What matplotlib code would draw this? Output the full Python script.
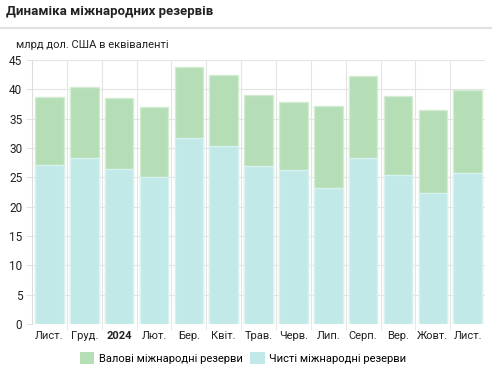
import matplotlib.pyplot as plt
from matplotlib.patches import Patch

plt.rcParams['font.family'] = ['Roboto', 'DejaVu Sans']

# Дані
months = ['Лист.', 'Груд.', '2024', 'Лют.', 'Бер.', 'Квіт.', 'Трав.',
          'Черв.', 'Лип.', 'Серп.', 'Вер.', 'Жовт.', 'Лист.']
gross = [38.7, 40.45, 38.5, 37.0, 43.75, 42.4, 39.0, 37.85, 37.15, 42.3, 38.8, 36.5, 39.9]
net = [27.05, 28.35, 26.4, 25.1, 31.7, 30.4, 27.0, 26.2, 23.25, 28.3, 25.4, 22.3, 25.8]

green = '#b5deb6'
cyan = '#c1e9e8'
grid_c = '#e4e4e4'

fig = plt.figure(figsize=(4.92, 3.69), dpi=100)
ax = fig.add_axes([0.065, 0.122, 0.921, 0.715])

x = list(range(len(months)))
ax.bar(x, gross, width=0.82, color=green, edgecolor='#d3ecd3', linewidth=1.0, zorder=2)
ax.bar(x, net, width=0.82, color=cyan, edgecolor='#d8f2f1', linewidth=1.0, zorder=3)

ax.set_xlim(-0.5, len(months) - 0.5)
ax.set_ylim(0, 45)
ax.set_yticks(range(0, 46, 5))
ax.set_xticks(x)
ax.set_xticklabels(months)
for lbl in ax.get_xticklabels():
    if lbl.get_text() == '2024':
        lbl.set_fontweight('bold')

# сітка
ax.set_xticks([i + 0.5 for i in x[:-1]], minor=True)
ax.grid(axis='y', color=grid_c, linewidth=0.8, zorder=0)
ax.grid(axis='x', which='minor', color=grid_c, linewidth=0.8, zorder=0)
ax.tick_params(axis='x', which='major', length=0, labelsize=8, pad=5, colors='#222222')
ax.tick_params(axis='x', which='minor', length=4, color=grid_c)
ax.tick_params(axis='y', length=4, color=grid_c, labelsize=8.5, pad=3, colors='#222222')
for s in ['top', 'right', 'bottom']:
    ax.spines[s].set_visible(False)
ax.spines['left'].set_color('#dddddd')

fig.text(0.012, 0.97, 'Динаміка міжнародних резервів', fontsize=9.5,
         fontweight='bold', color='#222222', va='center')
fig.add_artist(plt.Line2D([0, 1], [0.925, 0.925], color='#e0e0e0', linewidth=1.5,
                          transform=fig.transFigure))
fig.text(0.033, 0.878, 'млрд дол. США в еквіваленті', fontsize=8,
         color='#222222', va='center')

handles = [Patch(facecolor=green, edgecolor='none'), Patch(facecolor=cyan, edgecolor='none')]
fig.legend(handles, ['Валові міжнародні резерви', 'Чисті міжнародні резерви'],
           loc='center', bbox_to_anchor=(0.494, 0.03), ncol=2, frameon=False,
           fontsize=8, handlelength=1.3, handleheight=1.3, columnspacing=0.7,
           handletextpad=0.4)

plt.savefig('out.png', dpi=100)
plt.close()
